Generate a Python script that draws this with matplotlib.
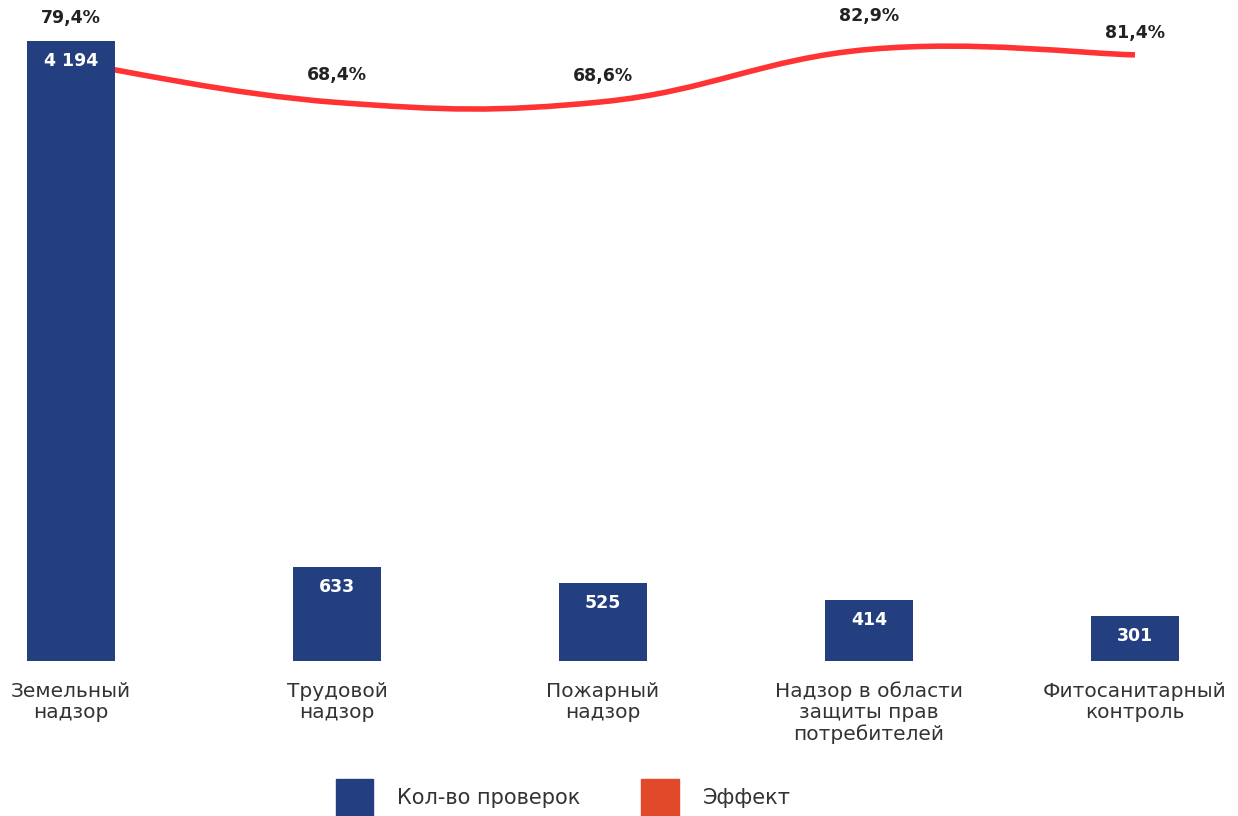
import matplotlib.pyplot as plt
from matplotlib.path import Path
from matplotlib.patches import PathPatch, Patch

categories = ['Земельный\nнадзор', 'Трудовой\nнадзор', 'Пожарный\nнадзор',
              'Надзор в области\nзащиты прав\nпотребителей', 'Фитосанитарный\nконтроль']
checks = [4194, 633, 525, 414, 301]
check_labels = ['4 194', '633', '525', '414', '301']
effect = [79.4, 68.4, 68.6, 82.9, 81.4]
effect_labels = ['79,4%', '68,4%', '68,6%', '82,9%', '81,4%']

BLUE = '#243F80'
RED = '#FF3333'
LEG_RED = '#E2492B'
DARK = '#222222'

plt.rcParams['font.family'] = ['DejaVu Sans']

fig = plt.figure(figsize=(12.38, 8.16), dpi=100)
ax = fig.add_axes([0, 0.19, 1, 0.7598])
ax2 = ax.twinx()

x = list(range(len(categories)))

# smooth line (Catmull-Rom style bezier through the points)
pts = list(zip(x, effect))
verts = [pts[0]]
codes = [Path.MOVETO]
k = 5.0
for i in range(len(pts) - 1):
    p0 = pts[i - 1] if i > 0 else pts[i]
    p1 = pts[i]
    p2 = pts[i + 1]
    p3 = pts[i + 2] if i + 2 < len(pts) else pts[i + 1]
    c1 = (p1[0] + (p2[0] - p0[0]) / k, p1[1] + (p2[1] - p0[1]) / k)
    c2 = (p2[0] - (p3[0] - p1[0]) / k, p2[1] - (p3[1] - p1[1]) / k)
    verts += [c1, c2, p2]
    codes += [Path.CURVE4] * 3
ax2.add_patch(PathPatch(Path(verts, codes), facecolor='none', edgecolor=RED,
                        lw=4, capstyle='butt', zorder=1))

ax2.set_zorder(1)
ax.set_zorder(2)
ax.patch.set_visible(False)

bars = ax.bar(x, checks, width=0.33, color=BLUE, zorder=3)
for xi, v, lab in zip(x, checks, check_labels):
    ax.annotate(lab, (xi, v), xytext=(0, -20), textcoords='offset pixels',
                ha='center', va='center', color='white', fontsize=12.5,
                fontweight='bold', zorder=4)

offsets = [44, 27, 26, 33, 22]
for xi, v, lab, off in zip(x, effect, effect_labels, offsets):
    ax2.annotate(lab, (xi, v), xytext=(0, off), textcoords='offset pixels',
                 ha='center', va='center', color=DARK, fontsize=12.5,
                 fontweight='bold')

ax.set_xlim(-71 / 266, (1238 - 71) / 266)
ax.set_ylim(0, 4194)
ax2.set_ylim(-84.2, 85.2)

for a in (ax, ax2):
    a.set_yticks([])
    for s in a.spines.values():
        s.set_visible(False)

ax.set_xticks(x)
ax.set_xticklabels(categories, fontsize=14.5, color='#333333', linespacing=1.12)
ax.tick_params(axis='x', length=0, pad=15)

handles = [Patch(color=BLUE), Patch(color=LEG_RED)]
fig.legend(handles, ['Кол-во проверок', 'Эффект'], loc='center',
           bbox_to_anchor=(0.455, 0.022), ncol=2, frameon=False, fontsize=15,
           handlelength=1.8, handleheight=2.4, handletextpad=1.15,
           columnspacing=2.9, labelcolor='#333333')

fig.savefig('out.png', dpi=100)
